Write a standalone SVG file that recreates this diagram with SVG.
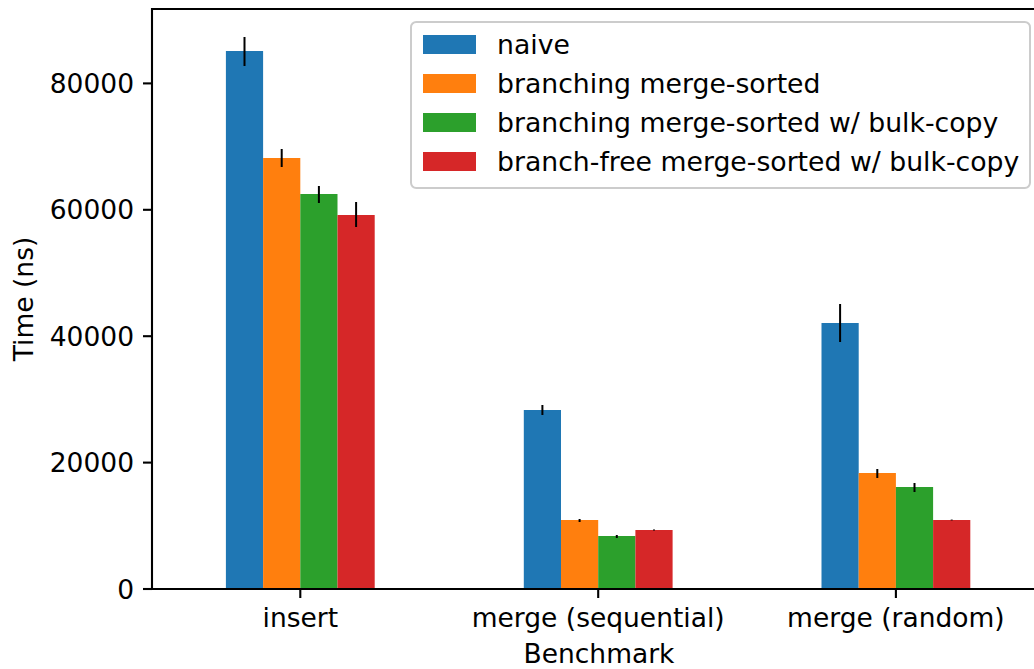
<svg xmlns="http://www.w3.org/2000/svg" width="1034" height="669" viewBox="0 0 1034 669">
  <style>
    text { font-family: "DejaVu Sans", "Liberation Sans", sans-serif; font-size: 26.5px; fill: #000; }
    #legend text { font-size: 26.7px; }
    .c0 { fill: #1f77b4; }
    .c1 { fill: #ff7f0e; }
    .c2 { fill: #2ca02c; }
    .c3 { fill: #d62728; }
    .err { stroke: #000; stroke-width: 2; }
    .spine { stroke: #000; stroke-width: 2.1; fill: none; stroke-linecap: square; }
    .tick { stroke: #000; stroke-width: 2.1; }
    .ylab { text-anchor: end; }
    .xlab { text-anchor: middle; }
  </style>
  <rect x="0" y="0" width="1034" height="669" fill="#fff"/>

  <!-- bars: bottom at y=589, 20000 ns = 126.4 px -->
  <g id="group-insert">
    <rect class="c0" x="225.9" y="51" width="37.2" height="538"/>
    <rect class="c1" x="263.1" y="158" width="37.2" height="431"/>
    <rect class="c2" x="300.3" y="194" width="37.2" height="395"/>
    <rect class="c3" x="337.5" y="215" width="37.2" height="374"/>
    <line class="err" x1="244.5" y1="37" x2="244.5" y2="66"/>
    <line class="err" x1="281.7" y1="149" x2="281.7" y2="167"/>
    <line class="err" x1="318.9" y1="186" x2="318.9" y2="203"/>
    <line class="err" x1="356.1" y1="202" x2="356.1" y2="227"/>
  </g>
  <g id="group-merge-sequential">
    <rect class="c0" x="523.8" y="410" width="37.2" height="179"/>
    <rect class="c1" x="561" y="520" width="37.2" height="69"/>
    <rect class="c2" x="598.2" y="536" width="37.2" height="53"/>
    <rect class="c3" x="635.4" y="530" width="37.2" height="59"/>
    <line class="err" x1="542.4" y1="405" x2="542.4" y2="415"/>
    <line class="err" x1="579.6" y1="519" x2="579.6" y2="522"/>
    <line class="err" x1="616.8" y1="535" x2="616.8" y2="538"/>
    <line class="err" x1="654" y1="529.6" x2="654" y2="530.4"/>
  </g>
  <g id="group-merge-random">
    <rect class="c0" x="821.5" y="323" width="37.2" height="266"/>
    <rect class="c1" x="858.7" y="473" width="37.2" height="116"/>
    <rect class="c2" x="895.9" y="487" width="37.2" height="102"/>
    <rect class="c3" x="933.1" y="520" width="37.2" height="69"/>
    <line class="err" x1="840.1" y1="304" x2="840.1" y2="342"/>
    <line class="err" x1="877.3" y1="469" x2="877.3" y2="478"/>
    <line class="err" x1="914.5" y1="483" x2="914.5" y2="492"/>
    <line class="err" x1="951.7" y1="519.6" x2="951.7" y2="520.4"/>
  </g>

  <!-- axes frame (right spine lies beyond the canvas) -->
  <g id="axes">
    <path class="spine" d="M1040,9 H152 V589 H1040"/>
    <line class="tick" x1="143" y1="589" x2="152" y2="589"/>
    <line class="tick" x1="143" y1="462.6" x2="152" y2="462.6"/>
    <line class="tick" x1="143" y1="336.2" x2="152" y2="336.2"/>
    <line class="tick" x1="143" y1="209.8" x2="152" y2="209.8"/>
    <line class="tick" x1="143" y1="83.4" x2="152" y2="83.4"/>
    <line class="tick" x1="300.3" y1="589" x2="300.3" y2="598"/>
    <line class="tick" x1="598.2" y1="589" x2="598.2" y2="598"/>
    <line class="tick" x1="895.9" y1="589" x2="895.9" y2="598"/>
    <text class="ylab" x="134" y="598.5">0</text>
    <text class="ylab" x="134" y="472.1">20000</text>
    <text class="ylab" x="134" y="345.7">40000</text>
    <text class="ylab" x="134" y="219.3">60000</text>
    <text class="ylab" x="134" y="92.9">80000</text>
    <text class="xlab" x="300.3" y="627">insert</text>
    <text class="xlab" x="598.2" y="627">merge (sequential)</text>
    <text class="xlab" x="895.9" y="627">merge (random)</text>
    <text class="xlab" x="599" y="663">Benchmark</text>
    <text class="xlab" transform="translate(33,299) rotate(-90)">Time (ns)</text>
  </g>

  <!-- legend -->
  <g id="legend">
    <rect x="411" y="22" width="619" height="166" rx="5.2" ry="5.2" fill="#fff" fill-opacity="0.8" stroke="#cccccc" stroke-width="2"/>
    <rect class="c0" x="423" y="35" width="53" height="19"/>
    <rect class="c1" x="423" y="74" width="53" height="19"/>
    <rect class="c2" x="423" y="113" width="53" height="19"/>
    <rect class="c3" x="423" y="152" width="53" height="19"/>
    <text x="497" y="53.5">naive</text>
    <text x="497" y="92.5">branching merge-sorted</text>
    <text x="497" y="131.5">branching merge-sorted w/ bulk-copy</text>
    <text x="497" y="170.5">branch-free merge-sorted w/ bulk-copy</text>
  </g>
</svg>
